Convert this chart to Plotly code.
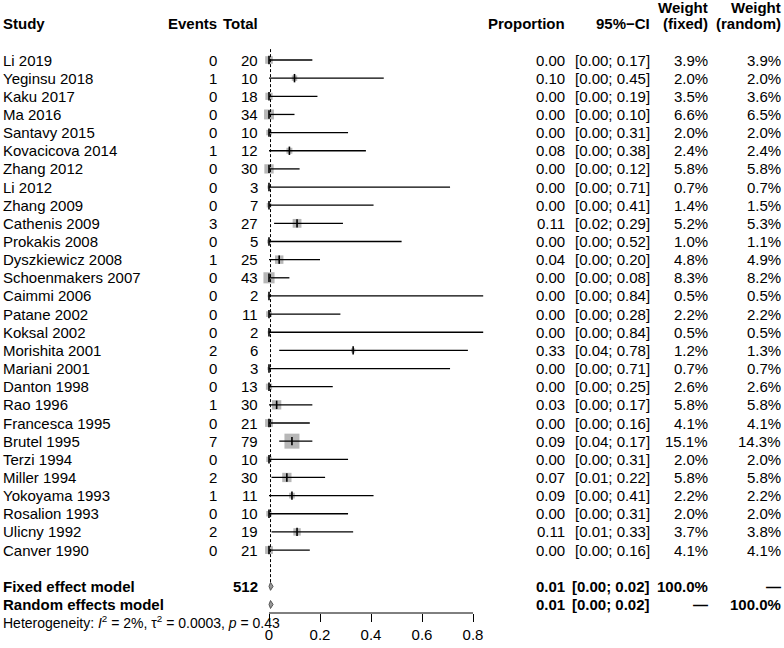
import plotly.graph_objects as go

studies = ["Li 2019", "Yeginsu 2018", "Kaku 2017", "Ma 2016", "Santavy 2015", "Kovacicova 2014",
           "Zhang 2012", "Li 2012", "Zhang 2009", "Cathenis 2009", "Prokakis 2008", "Dyszkiewicz 2008",
           "Schoenmakers 2007", "Caimmi 2006", "Patane 2002", "Koksal 2002", "Morishita 2001",
           "Mariani 2001", "Danton 1998", "Rao 1996", "Francesca 1995", "Brutel 1995", "Terzi 1994",
           "Miller 1994", "Yokoyama 1993", "Rosalion 1993", "Ulicny 1992", "Canver 1990"]
events = [0, 1, 0, 0, 0, 1, 0, 0, 0, 3, 0, 1, 0, 0, 0, 0, 2, 0, 0, 1, 0, 7, 0, 2, 1, 0, 2, 0]
totals = [20, 10, 18, 34, 10, 12, 30, 3, 7, 27, 5, 25, 43, 2, 11, 2, 6, 3, 13, 30, 21, 79, 10, 30, 11, 10, 19, 21]
proportion = [0.00, 0.10, 0.00, 0.00, 0.00, 0.08, 0.00, 0.00, 0.00, 0.11, 0.00, 0.04, 0.00, 0.00,
              0.00, 0.00, 0.33, 0.00, 0.00, 0.03, 0.00, 0.09, 0.00, 0.07, 0.09, 0.00, 0.11, 0.00]
ci_lower = [0.00, 0.00, 0.00, 0.00, 0.00, 0.00, 0.00, 0.00, 0.00, 0.02, 0.00, 0.00, 0.00, 0.00,
            0.00, 0.00, 0.04, 0.00, 0.00, 0.00, 0.00, 0.04, 0.00, 0.01, 0.00, 0.00, 0.01, 0.00]
ci_upper = [0.17, 0.45, 0.19, 0.10, 0.31, 0.38, 0.12, 0.71, 0.41, 0.29, 0.52, 0.20, 0.08, 0.84,
            0.28, 0.84, 0.78, 0.71, 0.25, 0.17, 0.16, 0.17, 0.31, 0.22, 0.41, 0.31, 0.33, 0.16]
w_fixed = [3.9, 2.0, 3.5, 6.6, 2.0, 2.4, 5.8, 0.7, 1.4, 5.2, 1.0, 4.8, 8.3, 0.5, 2.2, 0.5, 1.2, 0.7,
           2.6, 5.8, 4.1, 15.1, 2.0, 5.8, 2.2, 2.0, 3.7, 4.1]
w_random = [3.9, 2.0, 3.6, 6.5, 2.0, 2.4, 5.8, 0.7, 1.5, 5.3, 1.1, 4.9, 8.2, 0.5, 2.2, 0.5, 1.3, 0.7,
            2.6, 5.8, 4.1, 14.3, 2.0, 5.8, 2.2, 2.0, 3.8, 4.1]

total_n = 512
fixed_est, fixed_lo, fixed_hi = 0.006, 0.0, 0.016
random_est, random_lo, random_hi = 0.006, 0.0, 0.016
weight_total = "100.0%"
tick_vals = [0, 0.2, 0.4, 0.6, 0.8]
tick_text = ["0", "0.2", "0.4", "0.6", "0.8"]

W, H = 784, 648
FONT = "Liberation Sans, Arial, Helvetica, sans-serif"
FS = 15
GRAY = "#999999"

rows = list(range(1, len(studies) + 1))
row_fixed = len(studies) + 2
row_random = len(studies) + 3

fig = go.Figure()

# squares
sizes = [3.86 * (w ** 0.5) for w in w_fixed]
fig.add_trace(go.Scatter(x=proportion, y=rows, mode="markers",
                         marker=dict(symbol="square", size=sizes, color=GRAY, line=dict(width=0)),
                         hoverinfo="skip", showlegend=False))

# CI lines
lx, ly = [], []
for r, lo, hi in zip(rows, ci_lower, ci_upper):
    lx += [lo, hi, None]
    ly += [r, r, None]
fig.add_trace(go.Scatter(x=lx, y=ly, mode="lines", line=dict(color="black", width=1.3),
                         hoverinfo="skip", showlegend=False))

# vertical dashed line at fixed estimate
fig.add_trace(go.Scatter(x=[fixed_est, fixed_est], y=[0.4, row_fixed], mode="lines",
                         line=dict(color="black", width=1, dash="3px,2px"),
                         hoverinfo="skip", showlegend=False))

# point estimate ticks
fig.add_trace(go.Scatter(x=proportion, y=rows, mode="markers",
                         marker=dict(symbol="line-ns-open", size=6, color="black",
                                     line=dict(color="black", width=1.6)),
                         hoverinfo="skip", showlegend=False))

# diamonds
for r, est, lo, hi in [(row_fixed, fixed_est, fixed_lo, fixed_hi),
                       (row_random, random_est, random_lo, random_hi)]:
    h = 0.22
    fig.add_trace(go.Scatter(x=[lo, est, hi, est, lo], y=[r, r - h, r, r + h, r],
                             mode="lines", fill="toself", fillcolor=GRAY,
                             line=dict(color="#555555", width=1),
                             hoverinfo="skip", showlegend=False))

ann = []


def txt(px, row, text, anchor="right", bold=False, size=FS):
    if bold:
        text = "<b>" + text + "</b>"
    ann.append(dict(x=px / W, xref="paper", y=row, yref="y", text=text, showarrow=False,
                    xanchor=anchor, yanchor="middle", font=dict(family=FONT, size=size, color="black")))


X_STUDY, X_EV, X_TOT, X_PROP, X_CI, X_WF, X_WR = 1, 219, 260, 567, 652, 710, 783
ROW_HEAD2 = -1.88

# headers
txt(X_STUDY, -1, "Study", "left", True)
txt(X_EV, -1, "Events", bold=True)
txt(X_TOT, -1, "Total", bold=True)
txt(X_PROP, -1, "Proportion", bold=True)
txt(X_CI, -1, "95%\u2212CI", bold=True)
txt(X_WF, ROW_HEAD2, "Weight", bold=True)
txt(X_WF, -1, "(fixed)", bold=True)
txt(X_WR, ROW_HEAD2, "Weight", bold=True)
txt(X_WR, -1, "(random)", bold=True)

for i, r in enumerate(rows):
    txt(X_STUDY, r, studies[i], "left")
    txt(X_EV, r, str(events[i]))
    txt(X_TOT, r, str(totals[i]))
    txt(X_PROP, r, f"{proportion[i]:.2f}")
    txt(X_CI, r, f"[{ci_lower[i]:.2f}; {ci_upper[i]:.2f}]")
    txt(X_WF, r, f"{w_fixed[i]:.1f}%")
    txt(X_WR, r, f"{w_random[i]:.1f}%")

txt(X_STUDY, row_fixed, "Fixed effect model", "left", True)
txt(X_TOT, row_fixed, str(total_n), bold=True)
txt(X_PROP, row_fixed, f"{fixed_est:.2f}", bold=True)
txt(X_CI, row_fixed, f"[{fixed_lo:.2f}; {fixed_hi:.2f}]", bold=True)
txt(X_WF, row_fixed, weight_total, bold=True)
txt(X_WR, row_fixed, "\u2014", bold=True)

txt(X_STUDY, row_random, "Random effects model", "left", True)
txt(X_PROP, row_random, f"{random_est:.2f}", bold=True)
txt(X_CI, row_random, f"[{random_lo:.2f}; {random_hi:.2f}]", bold=True)
txt(X_WF, row_random, "\u2014", bold=True)
txt(X_WR, row_random, weight_total, bold=True)

PLOT_BOTTOM = 613
ann.append(dict(x=1 / W, xref="paper", y=(PLOT_BOTTOM - 622) / PLOT_BOTTOM, yref="paper",
                text="Heterogeneity: <i>I</i><sup>2</sup> = 2%, \u03c4<sup>2</sup> = 0.0003, <i>p</i> = 0.43",
                showarrow=False, xanchor="left", yanchor="middle",
                font=dict(family=FONT, size=14, color="black")))

# axis line from first to last tick
shapes = [dict(type="line", xref="x", yref="paper", x0=tick_vals[0], x1=tick_vals[-1], y0=0, y1=0,
               line=dict(color="black", width=1))]

# axis scaling: 0 -> px 269, 0.8 -> px 473
px0, px08 = 269, 473
scale = (px08 - px0) / 0.8
xr = [-px0 / scale, (W - px0) / scale]
row_px1, row_step = 60, 18.15
yr = [(PLOT_BOTTOM - row_px1) / row_step + 1, (0 - row_px1) / row_step + 1]

fig.update_layout(
    width=W, height=H,
    margin=dict(l=0, r=0, t=0, b=H - PLOT_BOTTOM, pad=0),
    paper_bgcolor="white", plot_bgcolor="white",
    xaxis=dict(range=xr, tickvals=tick_vals, ticktext=tick_text, ticks="outside", ticklen=8,
               tickwidth=1, tickcolor="black", showline=False, showgrid=False, zeroline=False,
               tickfont=dict(family=FONT, size=FS, color="black"), fixedrange=True),
    yaxis=dict(range=yr, visible=False, showgrid=False, zeroline=False, fixedrange=True),
    annotations=ann, shapes=shapes, showlegend=False,
)

fig.write_html("out.html", config={"displayModeBar": False},
               post_script="document.body.style.margin='0';document.body.style.overflow='hidden';")
